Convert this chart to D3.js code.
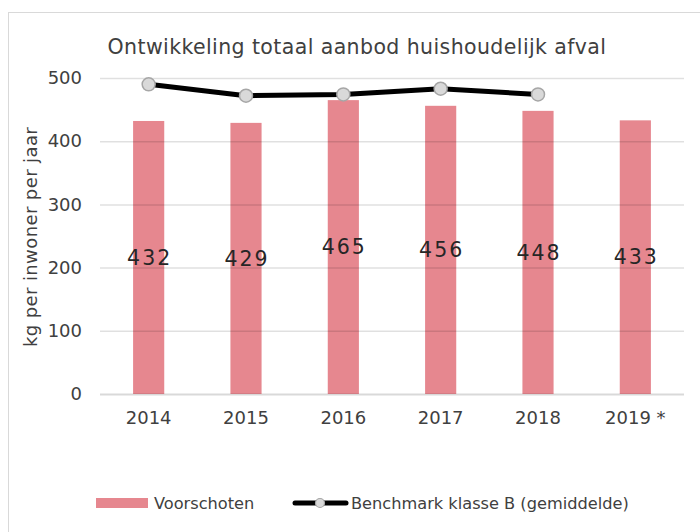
<!DOCTYPE html>
<html>
<head>
<meta charset="utf-8">
<script src="https://cdn.jsdelivr.net/npm/d3@7"></script>
<style>
  body { margin: 0; background: #fff; }
  svg { display: block; font-family: "DejaVu Sans", sans-serif; }
</style>
</head>
<body>
<div id="chart"></div>
<script>
// data
const years = ["2014", "2015", "2016", "2017", "2018", "2019 *"];
const voorschoten = [432, 429, 465, 456, 448, 433];
const benchmark = [490, 472, 474, 483, 474, null];
const yTicks = [0, 100, 200, 300, 400, 500];

const width = 700, height = 532;
const plot = { left: 100, right: 684, top: 78, bottom: 394 };

const svg = d3.select("#chart").append("svg")
  .attr("width", width)
  .attr("height", height);

// chart frame (runs past the right and bottom edge)
svg.append("rect")
  .attr("x", 8.5).attr("y", 12.5)
  .attr("width", 720).attr("height", 540)
  .attr("fill", "none")
  .attr("stroke", "#d9d9d9");

const x = d3.scaleBand()
  .domain(years)
  .range([plot.left, plot.right])
  .paddingInner(0.68)
  .paddingOuter(0.34);

const y = d3.scaleLinear()
  .domain([0, 500])
  .range([plot.bottom, plot.top]);

// title
svg.append("text")
  .attr("x", 357).attr("y", 54)
  .attr("text-anchor", "middle")
  .attr("font-size", 20.5)
  .attr("letter-spacing", 0.4)
  .attr("fill", "#404040")
  .text("Ontwikkeling totaal aanbod huishoudelijk afval");

// bars
const barData = years.map((yr, i) => ({ yr: yr, v: voorschoten[i] }));
svg.selectAll("rect.bar")
  .data(barData)
  .enter()
  .append("rect")
  .attr("class", "bar")
  .attr("x", d => x(d.yr))
  .attr("y", d => y(d.v))
  .attr("width", x.bandwidth())
  .attr("height", d => y(0) - y(d.v))
  .attr("fill", "#e6878f");

// gridlines drawn over the bars, they show through faintly
const yAxis = d3.axisLeft(y)
  .tickValues(yTicks)
  .tickSize(-(plot.right - plot.left))
  .tickPadding(18);

const gy = svg.append("g")
  .attr("transform", "translate(" + plot.left + ",0)")
  .call(yAxis);
gy.select(".domain").remove();
gy.selectAll(".tick line")
  .attr("stroke", "#000")
  .attr("stroke-opacity", d => d === 0 ? 0.15 : 0.12)
  .attr("stroke-width", d => d === 0 ? 2 : 1.5);
gy.selectAll(".tick text")
  .attr("font-size", 18)
  .attr("fill", "#404040")
  .attr("font-family", "DejaVu Sans, sans-serif");

// x axis labels
const gx = svg.append("g")
  .attr("transform", "translate(0," + plot.bottom + ")")
  .call(d3.axisBottom(x).tickSize(0).tickPadding(17));
gx.select(".domain").remove();
gx.selectAll(".tick text")
  .attr("font-size", 18)
  .attr("fill", "#404040")
  .attr("font-family", "DejaVu Sans, sans-serif");

// y axis title
svg.append("text")
  .attr("transform", "translate(37,237)rotate(-90)")
  .attr("text-anchor", "middle")
  .attr("font-size", 18)
  .attr("letter-spacing", 0.4)
  .attr("fill", "#404040")
  .text("kg per inwoner per jaar");

// data labels at mid-bar
svg.selectAll("text.lbl")
  .data(barData)
  .enter()
  .append("text")
  .attr("class", "lbl")
  .attr("x", d => x(d.yr) + x.bandwidth() / 2 + 1)
  .attr("y", d => (y(d.v) + y(0)) / 2)
  .attr("dy", "0.35em")
  .attr("text-anchor", "middle")
  .attr("font-size", 20.5)
  .attr("letter-spacing", 2)
  .attr("fill", "#262626")
  .text(d => d.v);

// benchmark line
const lineData = years.map((yr, i) => ({ yr: yr, v: benchmark[i] })).filter(d => d.v != null);
const cx = d => x(d.yr) + x.bandwidth() / 2;

svg.append("path")
  .datum(lineData)
  .attr("fill", "none")
  .attr("stroke", "#000")
  .attr("stroke-width", 5)
  .attr("stroke-linejoin", "round")
  .attr("d", d3.line().x(cx).y(d => y(d.v)));

svg.selectAll("circle.mk")
  .data(lineData)
  .enter()
  .append("circle")
  .attr("class", "mk")
  .attr("cx", cx)
  .attr("cy", d => y(d.v))
  .attr("r", 6.5)
  .attr("fill", "#d9d9d9")
  .attr("stroke", "#a6a6a6")
  .attr("stroke-width", 1.5);

// legend
const lg = svg.append("g").attr("transform", "translate(0,503)");
lg.append("rect")
  .attr("x", 96).attr("y", -5)
  .attr("width", 52).attr("height", 10)
  .attr("fill", "#e6878f");
lg.append("text")
  .attr("x", 154).attr("y", 0).attr("dy", "0.35em")
  .attr("font-size", 16.2)
  .attr("fill", "#404040")
  .text("Voorschoten");
lg.append("line")
  .attr("x1", 295).attr("x2", 346)
  .attr("y1", 0).attr("y2", 0)
  .attr("stroke", "#000")
  .attr("stroke-width", 5)
  .attr("stroke-linecap", "round");
lg.append("circle")
  .attr("cx", 320).attr("cy", 0).attr("r", 4.5)
  .attr("fill", "#d9d9d9")
  .attr("stroke", "#a6a6a6")
  .attr("stroke-width", 1.2);
lg.append("text")
  .attr("x", 351).attr("y", 0).attr("dy", "0.35em")
  .attr("font-size", 16.2)
  .attr("fill", "#404040")
  .text("Benchmark klasse B (gemiddelde)");
</script>
</body>
</html>
